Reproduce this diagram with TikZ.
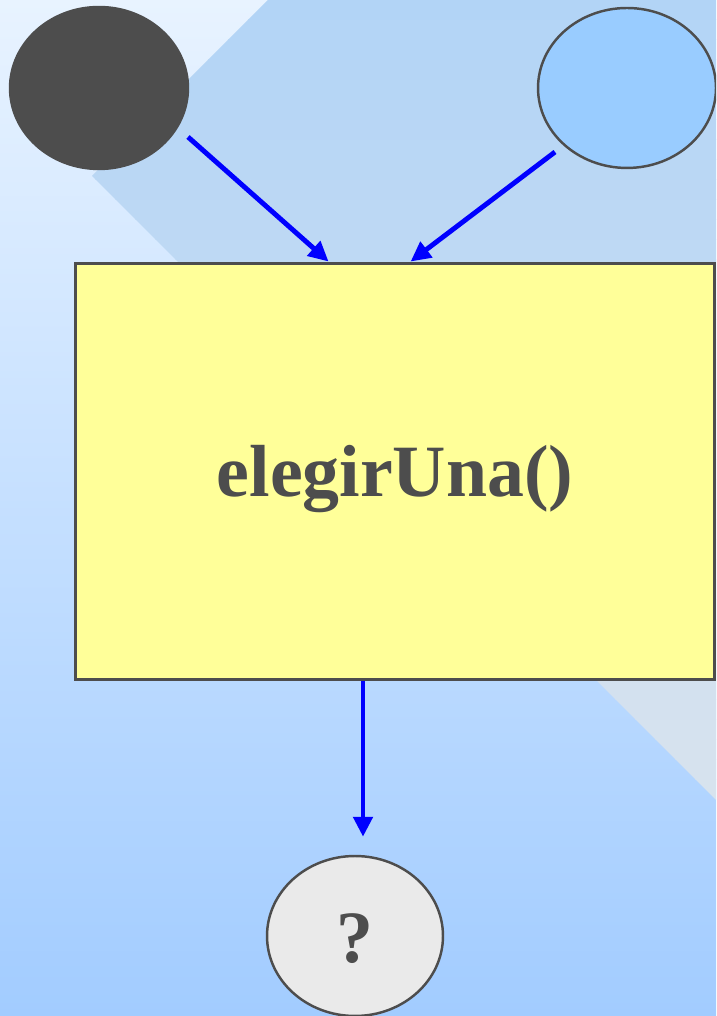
\documentclass[tikz,border=0pt]{standalone}
\usepackage{fontspec}
\setmainfont{Liberation Serif}
\usetikzlibrary{shapes.geometric}
\usetikzlibrary{arrows.meta}
\usetikzlibrary{calc}

\definecolor{edgegray}{HTML}{4D4D4D}
\definecolor{boxyellow}{HTML}{FFFF99}
\definecolor{objblue}{HTML}{99CCFF}
\definecolor{qgray}{HTML}{EAEAEA}
\definecolor{bgtop}{HTML}{E8F3FF}
\definecolor{bgbot}{HTML}{A2CCFF}
\definecolor{bandtop}{HTML}{B2D4F6}
\definecolor{bandbot}{HTML}{D8E3EE}

\begin{document}
\begin{tikzpicture}[x=0.02cm, y=0.02cm]
\tikzset{
  base/.style={draw=edgegray, line width=1.4pt, inner sep=0pt, align=center},
  obj/.style={base, ellipse, minimum width=3.56cm, minimum height=3.2cm},
  method/.style={base, rectangle, fill=boxyellow, line width=1.7pt,
    minimum width=12.8cm, minimum height=8.34cm},
  msg/.style={->, >={Triangle[length=0.4cm, width=0.38cm]}, blue, line width=2.8pt},
  big/.style={text=edgegray, font=\fontsize{42}{50}\selectfont\bfseries},
}

\useasboundingbox (0,0) rectangle (716,1016);
\clip (0,0) rectangle (716,1016);

% background
\fill[top color=bgtop, bottom color=bgbot] (0,0) rectangle (716,1016);
\begin{scope}
  \clip (268,1016) -- (92,840) -- (716,216) -- (760,216) -- (760,1016) -- cycle;
  \foreach \i in {0,...,39} {
    \pgfmathsetmacro{\pct}{100*(39.5-\i)/40}
    \fill[bandbot!\pct!bandtop] (80, {216+20*\i}) rectangle (760, {237+20*\i});
  }
\end{scope}

\node[obj, fill=edgegray, minimum height=3.24cm] (dark) at (99, 928) {};
\node[obj, fill=objblue] (light) at (627, 928) {};
\node[method] (box) at (395, 544.5) {};
\node[big] (boxlabel) at ($(box.center)+(0,-8)$) {elegirUna()};
\node[obj, fill=qgray, minimum width=3.52cm] (q) at (355, 80) {};
\node[big] (qlabel) at ($(q.center)+(0,-3)$) {?};

\coordinate (qin) at ($(q.north)+(8,18)$);
\draw[msg] ($(dark.center)+(89,-49)$) -- ($(box.north west)+(255,0)$);
\draw[msg] ($(light.center)+(-72,-64)$) -- ($(box.north west)+(337,0)$);
\draw[msg] (box.south -| qin) -- (qin);
\end{tikzpicture}
\end{document}
